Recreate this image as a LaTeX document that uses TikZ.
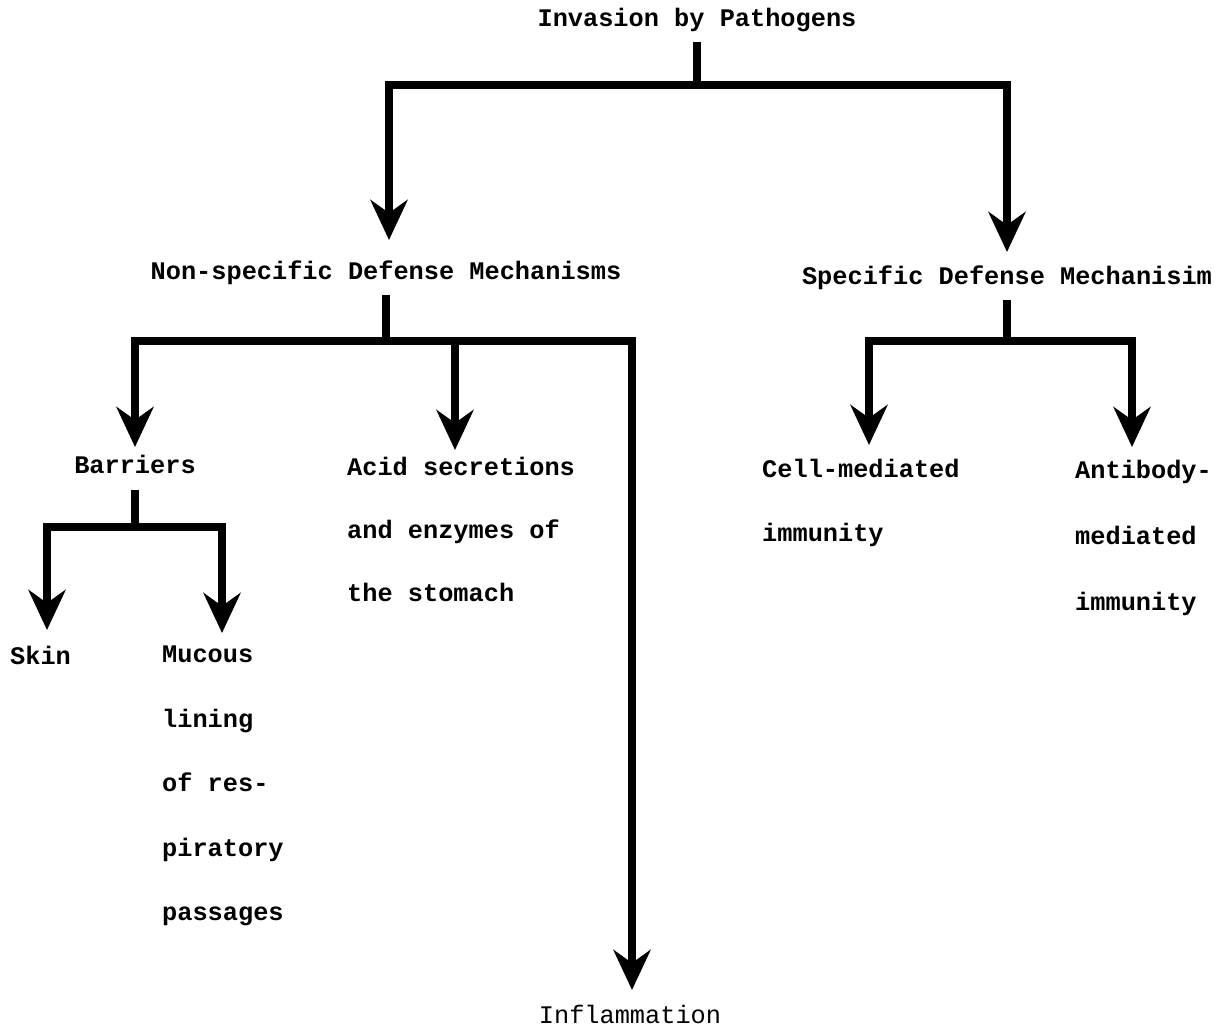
\documentclass[tikz,border=0pt]{standalone}
\usepackage{fontspec}
\setmonofont{Liberation Mono}
\usetikzlibrary{arrows.meta}
\begin{document}
\begin{tikzpicture}[x=1pt,y=-1pt,
  txt/.style={inner sep=0pt, font=\ttfamily\bfseries\fontsize{25.3}{64}\selectfont, align=left},
  ln/.style={line width=7.5pt, line join=miter},
  arr/.style={ln, -{Stealth[length=40pt,width=37pt,inset=13pt]}}]
\useasboundingbox (0,0) rectangle (1230,1035);

% texts
\node[txt, anchor=base] (inv) at (697,27) {Invasion by Pathogens};
\node[txt, anchor=base] (ns) at (386,279) {Non-specific Defense Mechanisms};
\node[txt, anchor=base] (sp) at (1007,284) {Specific Defense Mechanisim};
\node[txt, anchor=base] (bar) at (135,473) {Barriers};
\node[txt, anchor=north west, font=\ttfamily\bfseries\fontsize{25.3}{63}\selectfont] (acid) at (347,457) {Acid secretions\\and enzymes of\\the stomach};
\node[txt, anchor=base west] (skin) at (10,664) {Skin};
\node[txt, anchor=north west, font=\ttfamily\bfseries\fontsize{25.3}{64.5}\selectfont] (muc) at (162,646) {Mucous\\lining\\of res-\\piratory\\passages};
\node[txt, anchor=north west] (cell) at (762,459) {Cell-mediated\\immunity};
\node[txt, anchor=north west, font=\ttfamily\bfseries\fontsize{25.3}{66}\selectfont] (anti) at (1075,460) {Antibody-\\mediated\\immunity};
\node[txt, anchor=base, font=\ttfamily\mdseries\fontsize{25.3}{64}\selectfont] (inf) at (630,1023) {Inflammation};

% junctions and arrow ends
\coordinate (j0) at (697,85);
\coordinate (ns-in) at (389,240);
\coordinate (sp-in) at (1007,252);
\coordinate (j1) at (386,341);
\coordinate (bar-in) at (135,447);
\coordinate (acid-in) at (455,450);
\coordinate (inf-in) at (632,990);
\coordinate (j2) at (1007,341);
\coordinate (cell-in) at (869,445);
\coordinate (anti-in) at (1132,447);
\coordinate (j3) at (135,527);
\coordinate (skin-in) at (47,630);
\coordinate (muc-in) at (222,633);

% connectors
\draw[ln, shorten <=9pt] (inv.south) -- (j0);
\draw[arr] (j0) -| (ns-in);
\draw[arr] (j0) -| (sp-in);

\draw[ln, shorten <=11pt] (ns.south) -- (j1);
\draw[arr] (j1) -| (bar-in);
\draw[arr] (j1) -| (acid-in);
\draw[arr] (j1) -| (inf-in);

\draw[ln, shorten <=11pt] (sp.south) -- (j2);
\draw[arr] (j2) -| (cell-in);
\draw[arr] (j2) -| (anti-in);

\draw[ln, shorten <=17pt] (bar.south) -- (j3);
\draw[arr] (j3) -| (skin-in);
\draw[arr] (j3) -| (muc-in);
\end{tikzpicture}
\end{document}
